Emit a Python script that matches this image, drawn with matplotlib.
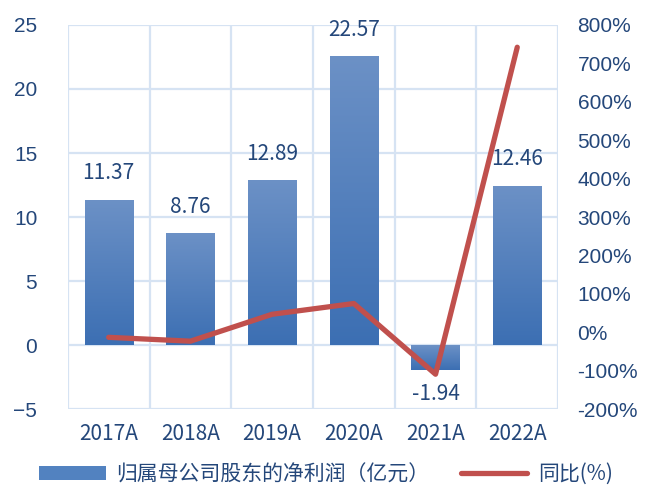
import matplotlib
matplotlib.use("Agg")
import matplotlib.pyplot as plt
import numpy as np
from matplotlib.patches import Patch
from matplotlib.lines import Line2D

plt.rcParams['font.family'] = ['Noto Sans CJK SC', 'DejaVu Sans']

years = ['2017A', '2018A', '2019A', '2020A', '2021A', '2022A']
profit = [11.37, 8.76, 12.89, 22.57, -1.94, 12.46]
yoy = [-13, -23, 47, 75, -109, 742]

txt = '#24477a'
grid = '#d6e3f3'
red = '#c0504d'

fig = plt.figure(figsize=(6.52, 4.99), dpi=100)
ax = fig.add_axes([0.104, 0.180, 0.752, 0.770])
ax2 = ax.twinx()

x = np.arange(len(years))
bars = ax.bar(x, profit, width=0.59, color='none', zorder=2)

# gradient fill for each bar
grad = np.linspace(0, 1, 256).reshape(-1, 1)
cmap = matplotlib.colors.LinearSegmentedColormap.from_list('b', ['#3c6fb3', '#6c91c6'])
for b in bars:
    x0, y0 = b.get_x(), b.get_y()
    w, h = b.get_width(), b.get_height()
    lo, hi = min(y0, y0 + h), max(y0, y0 + h)
    im = ax.imshow(grad, cmap=cmap, aspect='auto', origin='lower',
                   extent=[x0, x0 + w, lo, hi], zorder=2)
    im.set_clip_path(b)

for xi, v in zip(x, profit):
    if v >= 0:
        ax.text(xi, v + 1.2, f'{v:.2f}', ha='center', va='bottom', fontsize=15, color=txt, zorder=3)
    else:
        ax.text(xi, v - 1.0, f'{v:.2f}', ha='center', va='top', fontsize=15, color=txt, zorder=3)

ax.set_xlim(-0.5, 5.5)
ax.set_ylim(-5, 25)
ax.set_yticks(range(-5, 26, 5))
ax.set_xticks(x)
ax.set_xticklabels(years)
for xb in np.arange(-0.5, 6, 1):
    ax.axvline(xb, color=grid, lw=1.6, zorder=0)
for yt in range(-5, 26, 5):
    ax.axhline(yt, color=grid, lw=1.6, zorder=0)
for s in ax.spines.values():
    s.set_visible(False)
for s in ax2.spines.values():
    s.set_visible(False)
ax.tick_params(axis='y', length=0, labelsize=15, labelcolor=txt, pad=22)
ax.tick_params(axis='x', length=0, labelsize=15, labelcolor=txt, pad=10)
for lb in ax.get_yticklabels():
    lb.set_fontfamily('Liberation Sans')

ax2.plot(x, yoy, color=red, lw=3.8, solid_capstyle='round', solid_joinstyle='round', zorder=5)
ax2.set_ylim(-200, 800)
ax2.set_yticks(range(-200, 801, 100))
ax2.set_yticklabels([f'{t}%' for t in range(-200, 801, 100)])
ax2.tick_params(axis='y', length=0, labelsize=15, labelcolor=txt, pad=14)
for lb in ax2.get_yticklabels():
    lb.set_fontfamily('Liberation Sans')
ax2.set_zorder(ax.get_zorder() + 1)
ax2.patch.set_visible(False)

handles = [Patch(facecolor='#5282c0', edgecolor='none'),
           Line2D([0], [0], color=red, lw=3.8, solid_capstyle='round')]
fig.legend(handles, ['归属母公司股东的净利润（亿元）', '同比(%)'], loc='lower center',
           bbox_to_anchor=(0.5, -0.01), ncol=2, frameon=False, fontsize=15,
           labelcolor=txt, handlelength=3.2, handleheight=0.6, columnspacing=1.5,
           handletextpad=0.5)

fig.savefig('out.png', dpi=100)
